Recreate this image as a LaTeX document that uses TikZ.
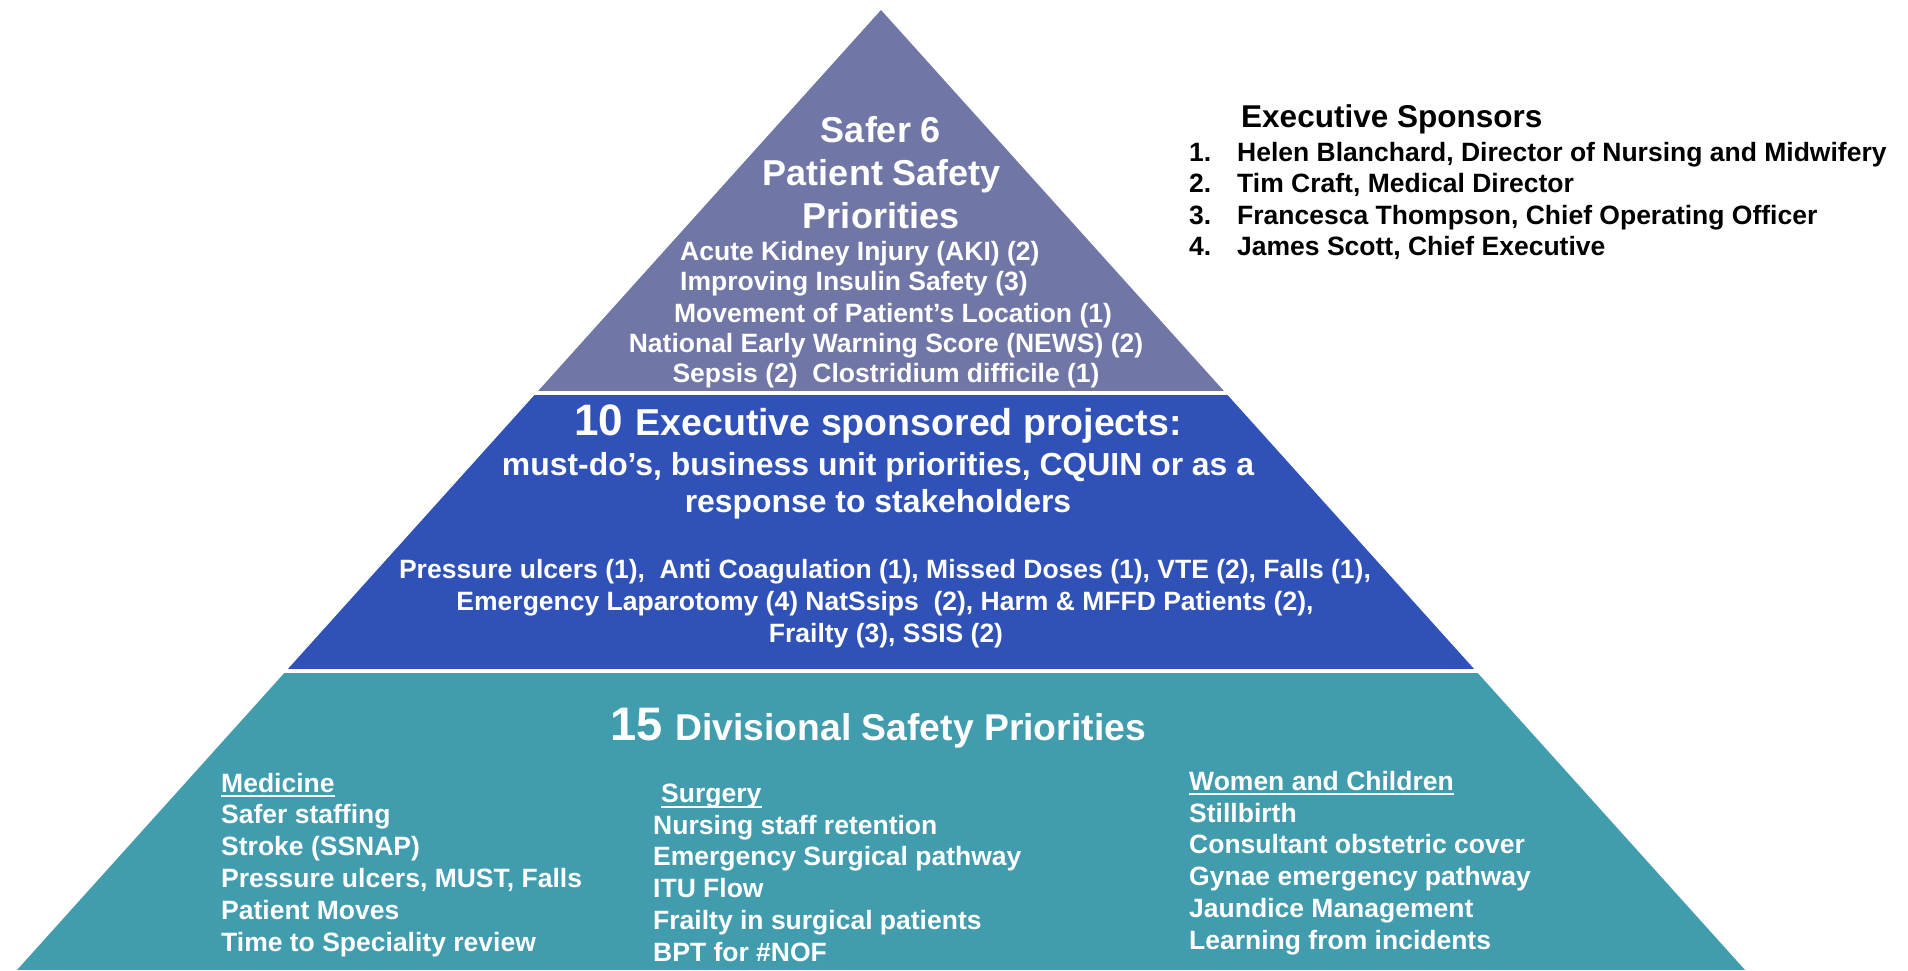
\documentclass[tikz,border=0pt]{standalone}
\usepackage{fontspec}
\setmainfont{Liberation Sans}
\usetikzlibrary{positioning}

\definecolor{saferblue}{RGB}{112,118,166}
\definecolor{execblue}{RGB}{47,81,184}
\definecolor{divteal}{RGB}{65,157,173}

\begin{document}
\begin{tikzpicture}[x=1pt,y=-1pt]

          \tikzstyle{every node}=[inner sep=0pt]
          \tikzstyle{big}=[text=white,font=\bfseries\fontsize{36}{36}\selectfont]
          \tikzstyle{txt}=[text=white,font=\bfseries\fontsize{26.5}{30}\selectfont]
          \tikzstyle{spon}=[text=black,font=\bfseries\fontsize{26.5}{30}\selectfont]
          \tikzstyle{uline}=[white,line width=2.2pt]

          \useasboundingbox (0,0) rectangle (1908,970);

          %% LA PYRAMIDE
          \coordinate (apex) at (881,10);
          \coordinate (bl) at (17,970);
          \coordinate (br) at (1745,970);

          \begin{scope}
            \clip (apex) -- (bl) -- (br) -- cycle;
            \fill[saferblue] (0,0) rectangle (1908,391);
            \fill[execblue] (0,395) rectangle (1908,669);
            \fill[divteal] (0,673) rectangle (1908,970);
          \end{scope}

          % premier niveau : Safer 6
          \node[big,anchor=base] (safer) at (881,142) {Safer 6};
          \node[big,anchor=base] (pss) at (882,185) {Patient Safety};
          \node[big,anchor=base] (prio) at (881,228) {Priorities};

          \node[txt,anchor=base west] (aki) at (680,260) {Acute Kidney Injury (AKI) (2)};
          \node[txt,anchor=base west] (ins) at (680,290) {Improving Insulin Safety (3)};
          \node[txt,anchor=base] (mov) at (893,322) {Movement of Patient’s Location (1)};
          \node[txt,anchor=base] (news) at (886,352) {National Early Warning Score (NEWS) (2)};
          \node[txt,anchor=base] (sep) at (886,382) {Sepsis (2)\ \ Clostridium difficile (1)};

          % deuxieme niveau : projets
          \node[text=white,font=\bfseries,anchor=base] (ten) at (878,435)
               {\fontsize{44}{44}\selectfont 10 \fontsize{37.5}{40}\selectfont Executive sponsored projects:};
          \node[text=white,font=\bfseries\fontsize{31.9}{36}\selectfont,anchor=base] (must) at (878,475)
               {must-do’s, business unit priorities, CQUIN or as a};
          \node[text=white,font=\bfseries\fontsize{31.9}{36}\selectfont,anchor=base] (resp) at (878,512)
               {response to stakeholders};

          \node[txt,anchor=base] (proj1) at (885,578)
               {Pressure ulcers (1),\ \ Anti Coagulation (1), Missed Doses (1), VTE (2), Falls (1),};
          \node[txt,anchor=base] (proj2) at (885,610)
               {Emergency Laparotomy (4) NatSsips\ \ (2), Harm \& MFFD Patients (2),};
          \node[txt,anchor=base] (proj3) at (886,642) {Frailty (3), SSIS (2)};

          % troisieme niveau : divisions
          \node[text=white,font=\bfseries,anchor=base] (fifteen) at (878,740)
               {\fontsize{47}{47}\selectfont 15 \fontsize{37.3}{40}\selectfont Divisional Safety Priorities};

          \node[txt,anchor=base west] (medhd) at (221,792) {Medicine};
          \draw[uline] ([yshift=-4pt]medhd.base west) -- ([yshift=-4pt]medhd.base east);
          \foreach \t [count=\i from 0] in {Safer staffing, Stroke (SSNAP),
                {Pressure ulcers, MUST, Falls}, Patient Moves, Time to Speciality review}
            \node[txt,anchor=base west] (med\i) at (221,823+32.2*\i) {\t};

          \node[txt,anchor=base west] (surghd) at (661,802) {Surgery};
          \draw[uline] ([yshift=-5pt]surghd.base west) -- ([yshift=-5pt]surghd.base east);
          \foreach \t [count=\i from 0] in {Nursing staff retention, Emergency Surgical pathway,
                ITU Flow, Frailty in surgical patients, BPT for \#NOF}
            \node[txt,anchor=base west] (surg\i) at (653,834+31.8*\i) {\t};

          \node[txt,anchor=base west] (wchd) at (1189,790) {Women and Children};
          \draw[uline] ([yshift=-4pt]wchd.base west) -- ([yshift=-4pt]wchd.base east);
          \foreach \t [count=\i from 0] in {Stillbirth, Consultant obstetric cover,
                Gynae emergency pathway, Jaundice Management, Learning from incidents}
            \node[txt,anchor=base west] (wc\i) at (1189,822+31.8*\i) {\t};

          %% LES SPONSORS
          \node[text=black,font=\bfseries\fontsize{31.5}{34}\selectfont,anchor=base west] (sponhd) at (1241,127) {Executive Sponsors};
          \foreach \n/\t [count=\i from 0] in {1/{Helen Blanchard, Director of Nursing and Midwifery},
                2/{Tim Craft, Medical Director}, 3/{Francesca Thompson, Chief Operating Officer},
                4/{James Scott, Chief Executive}} {
            \node[spon,anchor=base west] (num\i) at (1189,161+31.6*\i) {\n.};
            \node[spon,anchor=base west] (spon\i) at (1237,161+31.6*\i) {\t};
          }
\end{tikzpicture}
\end{document}
